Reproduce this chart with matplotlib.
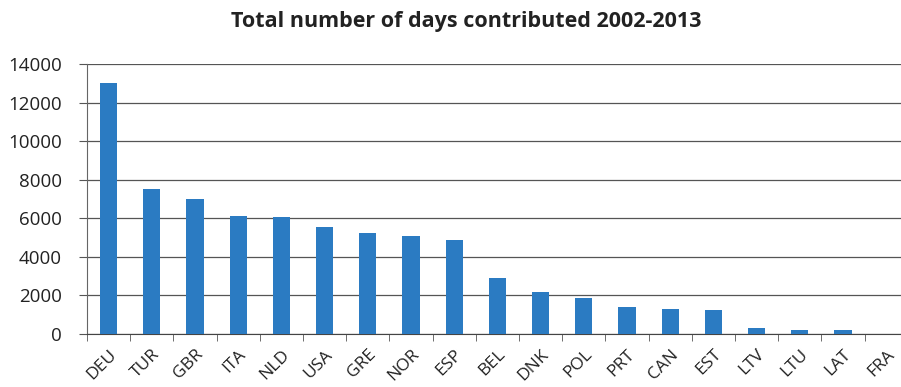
import matplotlib
matplotlib.use("Agg")
import matplotlib.pyplot as plt
import numpy as np

categories = ["DEU", "TUR", "GBR", "ITA", "NLD", "USA", "GRE", "NOR", "ESP", "BEL",
              "DNK", "POL", "PRT", "CAN", "EST", "LTV", "LTU", "LAT", "FRA"]
values = [13000, 7520, 7000, 6130, 6050, 5550, 5240, 5100, 4870, 2900,
          2180, 1850, 1420, 1280, 1250, 300, 200, 200, 10]
yticks = [0, 2000, 4000, 6000, 8000, 10000, 12000, 14000]
title = "Total number of days contributed 2002-2013"

plt.rcParams['font.family'] = ['Open Sans', 'DejaVu Sans']

fig = plt.figure(figsize=(9.01, 3.87), dpi=100)
W, H = 901, 387
ax = fig.add_axes([87 / W, 53 / H, (901 - 87) / W, (334 - 64) / H])

x = np.arange(len(categories))
ax.bar(x, values, width=0.4, color="#2B7BC2", zorder=3)

ax.set_ylim(0, 14000)
ax.set_xlim(-0.5, -0.5 + 814 / 43.2)
ax.set_yticks(yticks)
ax.set_yticklabels([str(v) for v in yticks], fontsize=13.5, color="#222222")
ax.yaxis.grid(True, color="#555555", linewidth=0.9, zorder=0)

ax.set_xticks(x)
ax.set_xticklabels(categories, rotation=45, ha="right", rotation_mode="anchor",
                   fontsize=12.5, color="#222222")
ax.tick_params(axis="x", which="major", length=0, pad=9)
ax.set_xticks(np.arange(len(categories)) - 0.5, minor=True)
ax.tick_params(axis="x", which="minor", length=5, color="#555555", direction="out")
ax.tick_params(axis="y", length=6, color="#555555", pad=12)

for s in ["top", "right"]:
    ax.spines[s].set_visible(False)
ax.spines["left"].set_color("#666666")
ax.spines["bottom"].set_color("#444444")

fig.text(466 / W, 1 - 22 / H, title, ha="center", va="center", fontsize=15.5,
         fontweight="bold", color="#222222")

fig.savefig("out.png", dpi=100)
